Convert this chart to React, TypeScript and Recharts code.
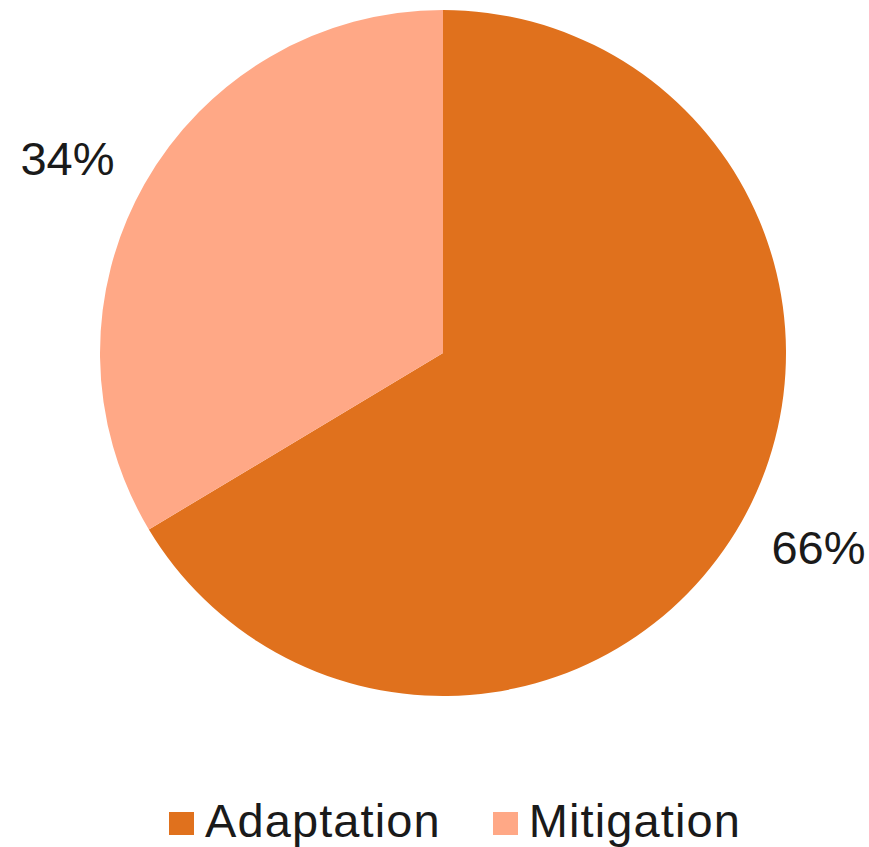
import React from "react";
import { PieChart, Pie, Cell, Legend } from "recharts";

const categories = ["Adaptation", "Mitigation"];
const values = [66.4, 33.6];
const colors = ["#E0711D", "#FFA886"];

const data = categories.map((name, i) => ({ name, value: values[i] }));

const FONT = "'Liberation Sans', Arial, sans-serif";
const RAD = Math.PI / 180;

const renderLabel = (props: any) => {
  const { cx, cy, midAngle, outerRadius, value } = props;
  const r = outerRadius + 80;
  const a = midAngle + 2.1;
  const x = cx + r * Math.cos(-a * RAD);
  const y = cy + r * Math.sin(-a * RAD);
  return (
    <text
      x={x}
      y={y}
      textAnchor="middle"
      dominantBaseline="central"
      fill="#1a1a1a"
      fontSize={47}
      fontFamily={FONT}
    >
      {`${Math.round(value)}%`}
    </text>
  );
};

const renderLegend = (props: any) => {
  const { payload } = props;
  return (
    <div
      style={{
        display: "flex",
        justifyContent: "flex-start",
        alignItems: "center",
        paddingLeft: 169,
        fontFamily: FONT,
        fontSize: 47,
        lineHeight: "47px",
        letterSpacing: 1.1,
        color: "#1a1a1a",
      }}
    >
      {(payload || []).map((p: any, i: number) => (
        <div
          key={i}
          style={{ display: "flex", alignItems: "center", marginRight: i === 0 ? 52 : 0 }}
        >
          <span
            style={{
              display: "inline-block",
              width: 25,
              height: 23,
              background: p.color,
              marginRight: 11,
              marginTop: 6,
            }}
          />
          <span>{p.value}</span>
        </div>
      ))}
    </div>
  );
};

export default function App() {
  return (
    <div style={{ position: "absolute", left: 0, top: 0, width: 869, height: 847, background: "#fff" }}>
      <PieChart width={869} height={847} margin={{ top: 0, right: 0, bottom: 0, left: 0 }}>
        <Pie
          data={data}
          dataKey="value"
          nameKey="name"
          cx={443}
          cy={353}
          outerRadius={343}
          startAngle={90}
          endAngle={-270}
          stroke="none"
          labelLine={false}
          label={renderLabel}
          isAnimationActive={false}
        >
          {data.map((d, i) => (
            <Cell key={d.name} fill={colors[i]} />
          ))}
        </Pie>
        <Legend
          content={renderLegend}
          wrapperStyle={{ position: "absolute", top: 797, left: 0, width: 869 }}
        />
      </PieChart>
    </div>
  );
}
